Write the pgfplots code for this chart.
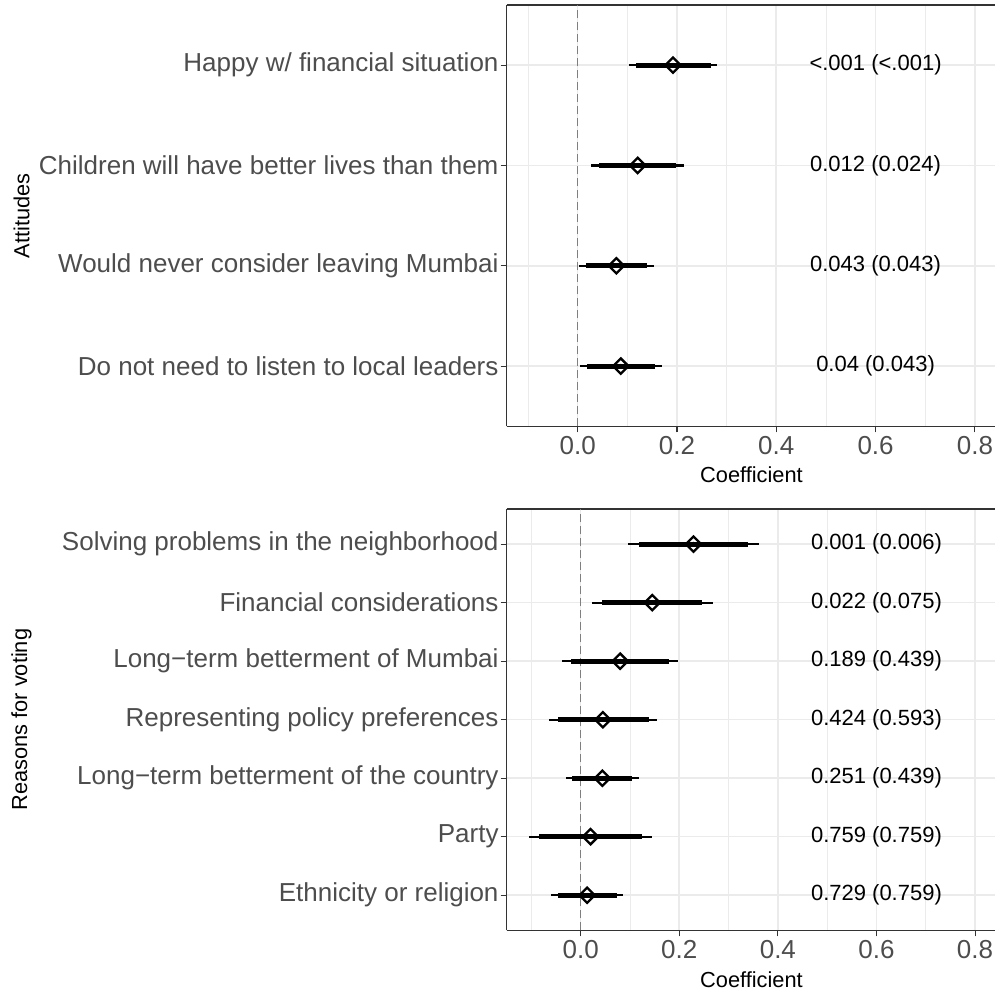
\documentclass[border=0pt]{standalone}
\usepackage{fontspec}
\setmainfont{Liberation Sans}
\usepackage{pgfplots}
\usepackage{pgfplotstable}
\pgfplotsset{compat=1.18}
\definecolor{gridc}{HTML}{EBEBEB}
\definecolor{tickc}{HTML}{4D4D4D}
\definecolor{framec}{HTML}{333333}
\definecolor{zeroc}{HTML}{7F7F7F}

% y = row position (top row highest); est = estimate; 95% and 90% intervals
\pgfplotstableread{
y est lo95 hi95 lo90 hi90
4 0.192 0.104 0.281 0.117 0.268
3 0.121 0.027 0.215 0.043 0.199
2 0.078 0.003 0.153 0.016 0.140
1 0.087 0.005 0.170 0.018 0.156
}\topdata
\pgfplotstableread[col sep=comma]{
y,label
4,<.001 (<.001)
3,0.012 (0.024)
2,0.043 (0.043)
1,0.04 (0.043)
}\toplabels

\pgfplotstableread{
y est lo95 hi95 lo90 hi90
7 0.229 0.096 0.362 0.118 0.340
6 0.145 0.022 0.268 0.043 0.247
5 0.080 -0.038 0.198 -0.019 0.179
4 0.045 -0.064 0.155 -0.046 0.138
3 0.044 -0.030 0.118 -0.017 0.105
2 0.020 -0.105 0.145 -0.085 0.125
1 0.013 -0.060 0.086 -0.047 0.074
}\botdata
\pgfplotstableread[col sep=comma]{
y,label
7,0.001 (0.006)
6,0.022 (0.075)
5,0.189 (0.439)
4,0.424 (0.593)
3,0.251 (0.439)
2,0.759 (0.759)
1,0.729 (0.759)
}\botlabels

\pgfplotsset{
  forest/.style={
    scale only axis, width=494bp, height=421.3bp,
    xmax=0.852, ymin=0.4,
    axis x line*=box, axis y line*=left,
    axis line style={framec, line width=1.1bp, -},
    tick style={framec, line width=1.1bp},
    major tick length=6bp, minor tick length=0pt,
    tick align=outside,
    xtick pos=bottom, ytick pos=left,
    xmajorgrids, xminorgrids, ymajorgrids,
    major grid style={gridc, line width=1.6bp},
    minor grid style={gridc, line width=0.8bp},
    xtick={0,0.2,0.4,0.6,0.8},
    xticklabels={0.0,0.2,0.4,0.6,0.8},
    minor xtick={-0.1,0.1,0.3,0.5,0.7},
    tick label style={font=\fontsize{26bp}{30bp}\selectfont, text=tickc},
    xticklabel style={inner sep=3.5bp},
    yticklabel style={inner sep=2bp},
    xlabel={Coefficient},
    label style={font=\fontsize{21.8bp}{25bp}\selectfont, text=black},
    xlabel style={at={(axis description cs:0.4955,0)}, anchor=north, inner sep=0pt, yshift=-40.7bp},
    ylabel style={at={(axis description cs:-0.982,0.5)}, anchor=center},
  },
  ci95/.style={only marks, mark=none, forget plot,
    error bars/.cd, x dir=both, x explicit, error mark=none,
    error bar style={draw=black, line width=2.2bp, line cap=butt}},
  ci90/.style={only marks, mark=none, forget plot,
    error bars/.cd, x dir=both, x explicit, error mark=none,
    error bar style={draw=black, line width=5.2bp, line cap=butt}},
  est/.style={only marks, mark=square, mark size=5.4bp,
    mark options={rotate=45, fill=white, draw=black, line width=2.3bp}},
  labs/.style={only marks, mark=none, nodes near coords, point meta=explicit symbolic,
    every node near coord/.append style={anchor=center, font=\fontsize{22bp}{25bp}\selectfont, text=black}},
}

\begin{document}
\begin{tikzpicture}

% ---- top panel ----
\begin{axis}[forest, at={(506.7bp,-5bp)}, anchor=north west,
    xmin=-0.1429, ymax=4.6,
    ytick={1,2,3,4},
    yticklabels={Do not need to listen to local leaders, Would never consider leaving Mumbai, Children will have better lives than them, Happy w/ financial situation},
    ylabel={Attitudes}]
\addplot[forget plot, zeroc, line width=1.6bp, dash pattern=on 8bp off 4bp] coordinates {(0,0.4) (0,4.6)};
\addplot[ci95] table[x=est, y=y, x error plus expr=\thisrow{hi95}-\thisrow{est}, x error minus expr=\thisrow{est}-\thisrow{lo95}] {\topdata};
\addplot[ci90] table[x=est, y=y, x error plus expr=\thisrow{hi90}-\thisrow{est}, x error minus expr=\thisrow{est}-\thisrow{lo90}] {\topdata};
\addplot[est] table[x=est, y=y] {\topdata};
\addplot[labs] table[x expr=0.6, y=y, meta=label] {\toplabels};
\end{axis}

% ---- bottom panel ----
\begin{axis}[forest, at={(506.7bp,-509bp)}, anchor=north west,
    xmin=-0.1501, ymax=7.6,
    ytick={1,2,3,4,5,6,7},
    yticklabels={Ethnicity or religion, Party, Long−term betterment of the country, Representing policy preferences, Long−term betterment of Mumbai, Financial considerations, Solving problems in the neighborhood},
    ylabel={Reasons for voting}]
\addplot[forget plot, zeroc, line width=1.6bp, dash pattern=on 8bp off 4bp] coordinates {(0,0.4) (0,7.6)};
\addplot[ci95] table[x=est, y=y, x error plus expr=\thisrow{hi95}-\thisrow{est}, x error minus expr=\thisrow{est}-\thisrow{lo95}] {\botdata};
\addplot[ci90] table[x=est, y=y, x error plus expr=\thisrow{hi90}-\thisrow{est}, x error minus expr=\thisrow{est}-\thisrow{lo90}] {\botdata};
\addplot[est] table[x=est, y=y] {\botdata};
\addplot[labs] table[x expr=0.6, y=y, meta=label] {\botlabels};
\end{axis}

\pgfresetboundingbox
\path[use as bounding box] (0,0) rectangle (995bp,-990bp);
\end{tikzpicture}
\end{document}
